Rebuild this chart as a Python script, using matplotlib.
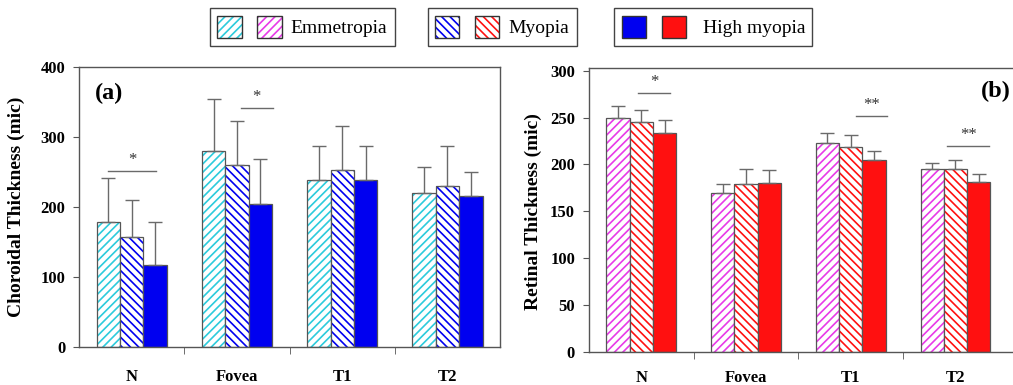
import numpy as np
import matplotlib
matplotlib.use("Agg")
import matplotlib.pyplot as plt
from matplotlib.patches import Patch
from matplotlib.legend_handler import HandlerTuple

plt.rcParams["font.family"] = ["Liberation Serif", "DejaVu Serif"]
plt.rcParams["hatch.linewidth"] = 1.2

regions = ["N", "Fovea", "T1", "T2"]
groups = ["Emmetropia", "Myopia", "High myopia"]

# (a) choroidal thickness, mean and upper SD
chor_emm = [179, 280, 239, 221]
chor_emm_sd = [63, 75, 49, 37]
chor_myo = [158, 260, 253, 230]
chor_myo_sd = [53, 63, 63, 58]
chor_high = [118, 204, 239, 216]
chor_high_sd = [61, 65, 48, 34]

# (b) retinal thickness, mean and upper SD
ret_emm = [249, 169, 223, 195]
ret_emm_sd = [13, 10, 11, 7]
ret_myo = [245, 179, 219, 195]
ret_myo_sd = [13, 16, 12, 10]
ret_high = [233, 180, 205, 181]
ret_high_sd = [14, 14, 9, 9]

# significance brackets: (x start, x end, y, label) in category units
chor_sig = [(0.275, 0.731, 252, "*"), (1.538, 1.84, 342, "*")]
ret_sig = [(0.47, 0.773, 276, "*"), (2.548, 2.85, 252, "**"), (3.423, 3.82, 220, "**")]

cyan = "#2ccbdc"
magenta = "#e83ae8"
blue = "#0000f0"
red = "#ff1010"
edge = "#555555"
errc = "#6a6a6a"

W = 0.222
x = np.arange(len(regions)) + 0.5


def draw_bars(ax, xs, vals, sd, color, hatch):
    if hatch:
        ax.bar(xs, vals, W, color="white", edgecolor=color, hatch=hatch, linewidth=0)
        ax.bar(xs, vals, W, fill=False, edgecolor=edge, linewidth=0.9)
    else:
        ax.bar(xs, vals, W, color=color, edgecolor=edge, linewidth=0.9)
    ax.errorbar(xs, vals, yerr=[np.zeros(len(sd)), sd], fmt="none",
                ecolor=errc, elinewidth=1.0, capsize=5, capthick=1.0)


def style_axis(ax, ymax, step, xmax, lpad):
    ax.set_xlim(0, xmax)
    ax.set_ylim(0, ymax)
    ax.set_yticks(np.arange(0, ymax + 1, step))
    ax.set_xticks(x)
    ax.set_xticklabels(regions, fontweight="bold", fontsize=12)
    ax.set_xticks([1, 2, 3], minor=True)
    ax.tick_params(axis="x", which="major", length=0, pad=lpad)
    ax.tick_params(axis="x", which="minor", length=5, direction="out", color=edge)
    ax.tick_params(axis="y", length=4, direction="out", color=edge, pad=6, labelsize=12)
    for lab in ax.get_yticklabels():
        lab.set_fontweight("bold")
    for s in ax.spines.values():
        s.set_color(edge)
        s.set_linewidth(1.0)


def draw_sig(ax, sig):
    for x0, x1, y, lab in sig:
        ax.plot([x0, x1], [y, y], color=errc, lw=1.0)
        ax.annotate(lab, ((x0 + x1) / 2, y), xytext=(0, 2), textcoords="offset points",
                    ha="center", va="bottom", fontsize=12, color="#333333")


fig = plt.figure(figsize=(10.13, 3.85), dpi=100)
ax1 = fig.add_axes([0.078, 0.098, 0.4157, 0.7273])
ax2 = fig.add_axes([0.5814, 0.0865, 0.4186, 0.7361])

draw_bars(ax1, x - W, chor_emm, chor_emm_sd, cyan, "////")
draw_bars(ax1, x, chor_myo, chor_myo_sd, blue, "\\\\\\\\")
draw_bars(ax1, x + W, chor_high, chor_high_sd, blue, None)
style_axis(ax1, 400, 100, 4, 16)
draw_sig(ax1, chor_sig)
ax1.set_ylabel("Choroidal Thickness (mic)", fontsize=14, fontweight="bold")
ax1.yaxis.set_label_coords(-0.128, 0.5)
ax1.text(0.038, 0.905, "(a)", transform=ax1.transAxes, fontsize=17.5,
         fontweight="bold", va="center")

draw_bars(ax2, x - W, ret_emm, ret_emm_sd, magenta, "////")
draw_bars(ax2, x, ret_myo, ret_myo_sd, red, "\\\\\\\\")
draw_bars(ax2, x + W, ret_high, ret_high_sd, red, None)
style_axis(ax2, 302.6, 50, 4.05, 13)
ax2.set_yticks(np.arange(0, 301, 50))
for lab in ax2.get_yticklabels():
    lab.set_fontweight("bold")
ax2.spines["right"].set_visible(False)
draw_sig(ax2, ret_sig)
ax2.set_ylabel("Retinal Thickness (mic)", fontsize=14, fontweight="bold")
ax2.yaxis.set_label_coords(-0.11, 0.494)
ax2.text(0.995, 0.92, "(b)", transform=ax2.transAxes, fontsize=17.5,
         fontweight="bold", va="center", ha="right")


def swatch(color, hatch=None):
    # hatched or solid square with a dark outline on top
    if hatch:
        fill = Patch(facecolor="white", edgecolor=color, hatch=hatch, linewidth=0)
    else:
        fill = Patch(facecolor=color, linewidth=0)
    outline = Patch(facecolor="none", edgecolor="#333333", linewidth=1.0)
    return (fill, outline)


# one legend box per refraction group, each with both panel swatches
pairs = [
    (swatch(cyan, "////"), swatch(magenta, "////")),
    (swatch(blue, "\\\\\\\\"), swatch(red, "\\\\\\\\")),
    (swatch(blue), swatch(red)),
]
anchors = [210, 427.7, 614.3]
textpads = [0.48, 0.48, 0.86]
for pair, name, ax0, tp in zip(pairs, groups, anchors, textpads):
    leg = fig.legend([pair], [name],
                     handler_map={pair: HandlerTuple(ndivide=None, pad=0.8)},
                     loc="upper left", bbox_to_anchor=(ax0 / 1013, 1 - 8.3 / 385),
                     fontsize=14, handlelength=3.3, handleheight=1.4,
                     handletextpad=tp, borderpad=0.38, borderaxespad=0,
                     fancybox=False, framealpha=1, edgecolor="#444444")
    leg.get_frame().set_linewidth(1.0)

fig.savefig("out.png", dpi=100)
